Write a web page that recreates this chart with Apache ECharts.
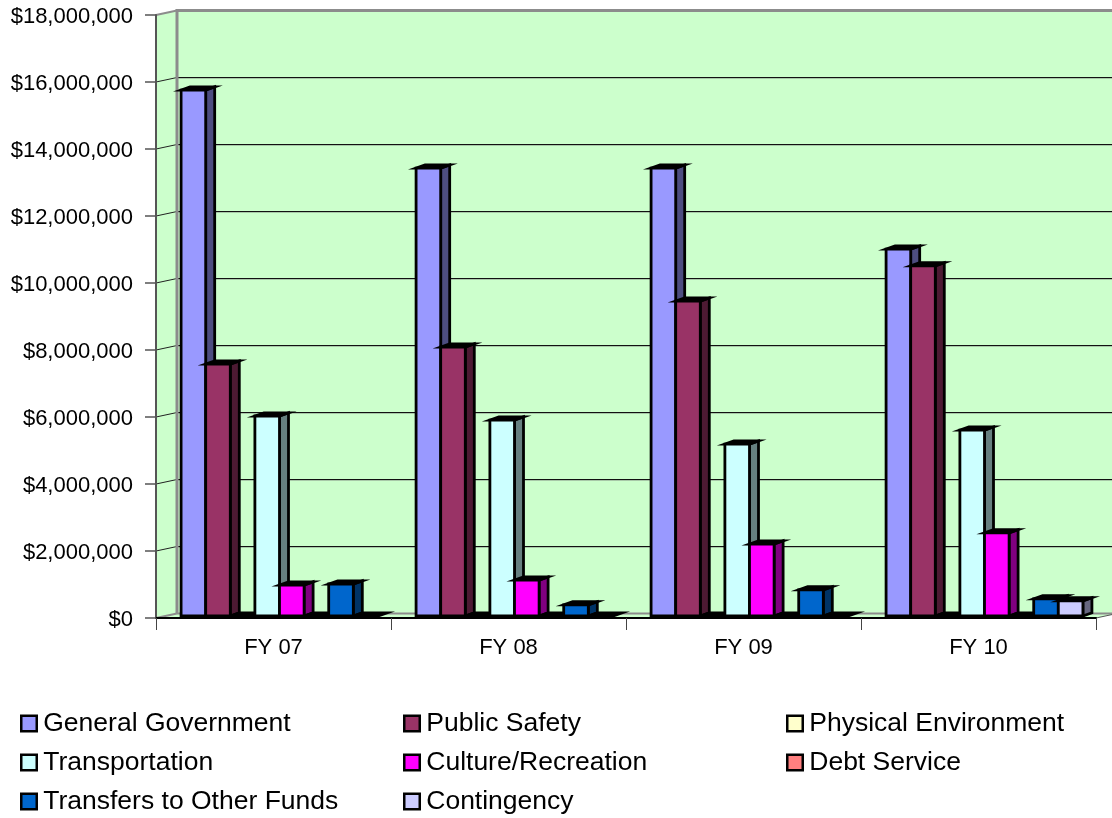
<!DOCTYPE html>
<html>
<head>
<meta charset="utf-8">
<style>html,body{margin:0;padding:0;background:#fff}#chart{width:1112px;height:818px}</style>
<script src="https://cdn.jsdelivr.net/npm/echarts@6/dist/echarts.min.js"></script>
</head>
<body>
<div id="chart"></div>
<script>
// Budget by function, FY 07 to FY 10
const categories = ['FY 07', 'FY 08', 'FY 09', 'FY 10'];
const generalGovernment = [15700000, 13370000, 13370000, 10950000];
const publicSafety = [7520000, 8030000, 9400000, 10450000];
const physicalEnvironment = [0, 0, 0, 0];
const transportation = [5970000, 5850000, 5130000, 5550000];
const cultureRecreation = [925000, 1070000, 2150000, 2480000];
const debtService = [0, 0, 0, 0];
const transfersToOtherFunds = [955000, 330000, 780000, 510000];
const contingency = [0, 0, 0, 450000];
const yTicks = [0, 2000000, 4000000, 6000000, 8000000, 10000000, 12000000, 14000000, 16000000, 18000000];

const seriesDefs = [
  ['General Government', generalGovernment, '#9999ff', '#4d4d80'],
  ['Public Safety', publicSafety, '#993366', '#4d1a33'],
  ['Physical Environment', physicalEnvironment, '#ffffcc', '#808066'],
  ['Transportation', transportation, '#ccffff', '#668080'],
  ['Culture/Recreation', cultureRecreation, '#ff00ff', '#800080'],
  ['Debt Service', debtService, '#ff8080', '#804040'],
  ['Transfers to Other Funds', transfersToOtherFunds, '#0066cc', '#003366'],
  ['Contingency', contingency, '#ccccff', '#666680']
];

// Oblique projection of the chart box
const WALL_DX = 21, WALL_DY = -4.5;   // back wall relative to the axis plane
const BAR_DX = 9, BAR_DY = -3.2;      // depth of one bar
const BAR_SHIFT_X = 6, BAR_BASE_DY = -2; // bars stand part way into the box
const BAR_SHARE = 0.1047;             // bar width as a share of a category

function poly(points, style, z2) {
  return { type: 'polygon', z2: z2 || 0, shape: { points }, style };
}

function renderWallItem(params, api) {
  const value = api.value(1);
  const p = api.coord([0, value]);
  const cs = params.coordSys;
  const left = cs.x, right = cs.x + cs.width;
  const yBottom = api.coord([0, 0])[1];
  const yTop = api.coord([0, yTicks[yTicks.length - 1]])[1];
  const children = [];
  const wallGrey = '#8c8c8c';
  if (params.dataIndex === 0) {
    const bx = left + WALL_DX, edge = right + WALL_DX;
    const fill = { fill: '#ccffcc' };
    children.push(poly([[bx, yTop + WALL_DY], [edge, yTop + WALL_DY], [edge, yBottom + WALL_DY], [bx, yBottom + WALL_DY]], fill));
    children.push(poly([[left, yTop], [bx, yTop + WALL_DY], [bx, yBottom + WALL_DY], [left, yBottom]], fill));
    children.push(poly([[left, yBottom], [bx, yBottom + WALL_DY], [edge, yBottom + WALL_DY], [right, yBottom]], fill));
    const frame = { stroke: wallGrey, lineWidth: 3, fill: 'none' };
    children.push({ type: 'polyline', z2: 3, shape: { points: [[bx, yBottom + WALL_DY], [bx, yTop + WALL_DY], [edge, yTop + WALL_DY]] }, style: frame });
    children.push({ type: 'line', z2: 3, shape: { x1: left, y1: yTop, x2: bx, y2: yTop + WALL_DY }, style: { stroke: wallGrey, lineWidth: 2 } });
    children.push({ type: 'line', z2: 3, shape: { x1: left, y1: yBottom, x2: bx, y2: yBottom + WALL_DY }, style: { stroke: wallGrey, lineWidth: 2 } });
    children.push({ type: 'line', z2: 1, shape: { x1: bx, y1: yBottom + WALL_DY, x2: edge, y2: yBottom + WALL_DY }, style: { stroke: wallGrey, lineWidth: 2 } });
    children.push({ type: 'line', z2: 1, shape: { x1: right, y1: yBottom, x2: edge, y2: yBottom + WALL_DY }, style: { stroke: '#555', lineWidth: 1 } });
  }
  if (value > 0 && value < yTicks[yTicks.length - 1]) {
    const y = p[1];
    children.push({ type: 'line', z2: 2, shape: { x1: left, y1: y, x2: left + WALL_DX, y2: y + WALL_DY }, style: { stroke: '#222', lineWidth: 1 } });
    children.push({ type: 'line', z2: 1, shape: { x1: left + WALL_DX, y1: y + WALL_DY + 1, x2: right + WALL_DX, y2: y + WALL_DY + 1 }, style: { stroke: '#a8c8a8', lineWidth: 1 } });
    children.push({ type: 'line', z2: 2, shape: { x1: left + WALL_DX, y1: y + WALL_DY, x2: right + WALL_DX, y2: y + WALL_DY }, style: { stroke: '#111', lineWidth: 1 } });
  }
  return { type: 'group', children };
}

function makeBarRenderer(index, color, side) {
  return function (params, api) {
    const base = api.coord([api.value(0), 0]);
    const top = api.coord([api.value(0), api.value(1)]);
    const catW = api.size([1, 0])[0];
    const w = catW * BAR_SHARE;
    const x0 = base[0] + BAR_SHIFT_X + (index - 4) * w;
    const x1 = x0 + w;
    const yb = base[1] + BAR_BASE_DY;
    const yt = top[1] + BAR_BASE_DY;
    const edge = { stroke: '#000', lineWidth: 2.8, lineJoin: 'miter', miterLimit: 12 };
    const children = [];
    if (yb - yt > 0.5) {
      children.push(poly([[x1, yt], [x1 + BAR_DX, yt + BAR_DY], [x1 + BAR_DX, yb + BAR_DY], [x1, yb]],
        Object.assign({ fill: side }, edge)));
    }
    children.push(poly([[x0, yt], [x1, yt], [x1 + BAR_DX, yt + BAR_DY], [x0 + BAR_DX, yt + BAR_DY]],
      Object.assign({ fill: '#000' }, edge)));
    if (yb - yt > 0.5) {
      children.push(poly([[x0, yt], [x1, yt], [x1, yb], [x0, yb]], Object.assign({ fill: color }, edge)));
    }
    return { type: 'group', children };
  };
}

const series = [{
  name: 'Walls',
  type: 'custom',
  z: 1,
  silent: true,
  coordinateSystem: 'cartesian2d',
  clip: false,
  renderItem: renderWallItem,
  data: yTicks.map(t => [0, t]),
  encode: { x: 0, y: 1 }
}].concat(seriesDefs.map(function (d, i) {
  return {
    name: d[0],
    type: 'custom',
    z: 4,
    coordinateSystem: 'cartesian2d',
    clip: false,
    renderItem: makeBarRenderer(i, d[2], d[3]),
    itemStyle: { color: d[2] },
    data: d[1].map((v, c) => [c, v]),
    encode: { x: 0, y: 1 }
  };
}));

const legendBase = {
  orient: 'vertical',
  top: 705,
  height: 160,
  itemWidth: 15.5,
  itemHeight: 15.5,
  itemGap: 12,
  icon: 'rect',
  selectedMode: false,
  itemStyle: { borderColor: '#000', borderWidth: 2.5 },
  textStyle: { fontFamily: 'Liberation Sans', fontSize: 26.5, color: '#000', padding: [0, 0, 0, 1.5] }
};

const option = {
  backgroundColor: '#fff',
  animation: false,
  tooltip: { show: false },
  grid: { left: 156, top: 15, width: 940, height: 603 },
  legend: [
    Object.assign({ left: 15, data: [seriesDefs[0][0], seriesDefs[3][0], seriesDefs[6][0]] }, legendBase),
    Object.assign({ left: 398, data: [seriesDefs[1][0], seriesDefs[4][0], seriesDefs[7][0]] }, legendBase),
    Object.assign({ left: 781, data: [seriesDefs[2][0], seriesDefs[5][0]] }, legendBase)
  ],
  xAxis: {
    type: 'category',
    data: categories,
    z: 3,
    axisLine: { lineStyle: { color: '#000', width: 2 } },
    axisTick: { show: true, length: 12, lineStyle: { color: '#444', width: 1 } },
    axisLabel: { margin: 19, color: '#000', fontFamily: 'Liberation Sans', fontSize: 22 },
    splitLine: { show: false }
  },
  yAxis: {
    type: 'value',
    min: 0,
    max: 18000000,
    interval: 2000000,
    z: 3,
    axisLine: { show: true, lineStyle: { color: '#555', width: 2 } },
    axisTick: { show: true, length: 11, lineStyle: { color: '#555', width: 1.5 } },
    axisLabel: {
      margin: 23, color: '#000', fontFamily: 'Liberation Sans', fontSize: 22,
      verticalAlign: 'top', lineHeight: 3,
      formatter: v => '$' + v.toLocaleString('en-US')
    },
    splitLine: { show: false }
  },
  series
};

echarts.init(document.getElementById('chart'), null, { renderer: 'canvas' }).setOption(option);
</script>
</body>
</html>
